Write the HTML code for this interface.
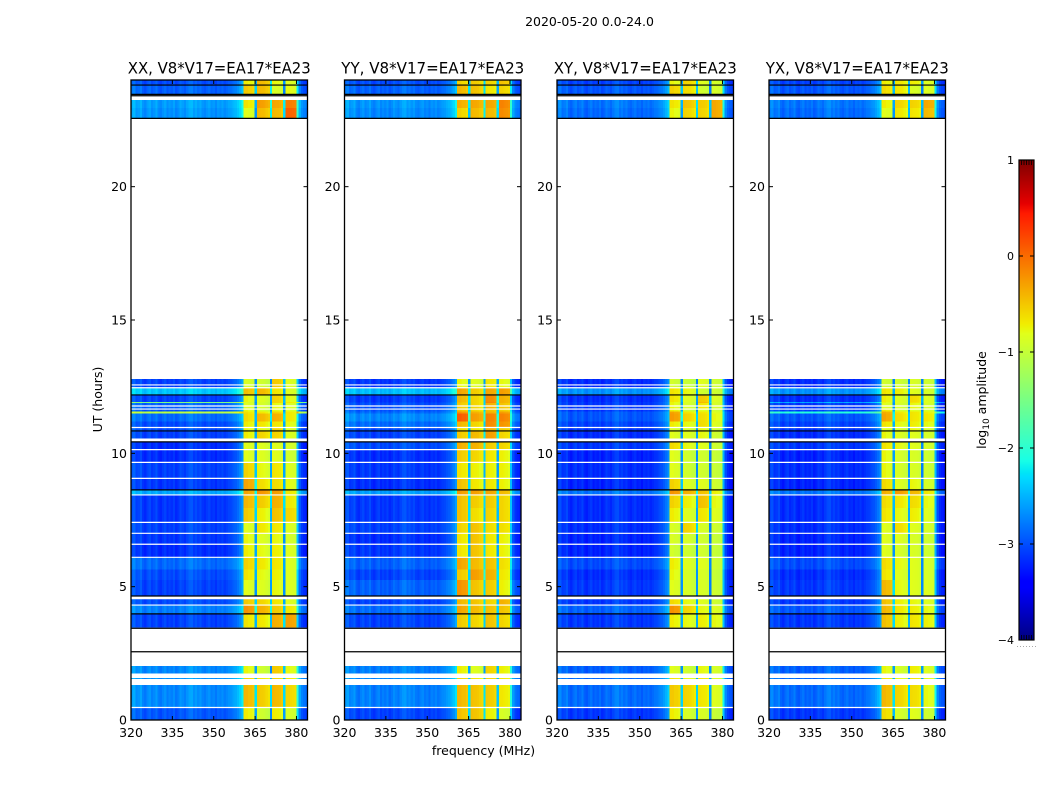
<!DOCTYPE html>
<html>
<head>
<meta charset="utf-8">
<title>2020-05-20 0.0-24.0</title>
<style>
html,body{margin:0;padding:0;background:#fff;width:1050px;height:800px;overflow:hidden}
svg{display:block}
text{font-family:"DejaVu Sans","Liberation Sans",sans-serif;fill:#000}
</style>
</head>
<body>
<svg id="chart" xmlns="http://www.w3.org/2000/svg" width="1050" height="800" viewBox="0 0 1050 800">
<rect width="1050" height="800" fill="#fff"/>
<text x="589.5" y="26" font-size="12.5" text-anchor="middle">2020-05-20 0.0-24.0</text>
<text x="102" y="399.5" font-size="12.5" text-anchor="middle" transform="rotate(-90 102 399.5)">UT (hours)</text>
<text x="483.5" y="755" font-size="12.5" text-anchor="middle">frequency (MHz)</text>
<text x="986" y="400" font-size="12.5" text-anchor="middle" transform="rotate(-90 986 400)">log<tspan font-size="9" dy="3">10</tspan><tspan dy="-3"> amplitude</tspan></text>
<g id="panels"></g>
<g id="colorbar"></g>
</svg>
<script>
// Tick labels
const freqTicks = [320, 335, 350, 365, 380];
const utTicks = [0, 5, 10, 15, 20];
const colorTicks = [1, 0, -1, -2, -3, -4];
const panelTitles = ["XX, V8*V17=EA17*EA23", "YY, V8*V17=EA17*EA23", "XY, V8*V17=EA17*EA23", "YX, V8*V17=EA17*EA23"];

// UT bins holding data (top hour, bottom hour); hours not listed are blank
const utBinTop = [24.00,23.81,23.25,22.95,12.79,12.45,12.19,11.93,11.89,11.64,11.56,11.50,11.20,10.99,10.84,10.43,10.16,9.68,9.08,8.63,8.44,7.95,7.43,7.01,6.60,6.11,5.65,5.25,4.56,4.31,3.98,2.03,1.58,1.31,0.49];
const utBinBottom = [23.81,23.46,22.95,22.58,12.45,12.19,11.93,11.89,11.64,11.56,11.50,11.20,10.99,10.84,10.56,10.16,9.68,9.08,8.63,8.44,7.95,7.43,7.01,6.60,6.11,5.65,5.25,4.65,4.31,3.98,3.47,1.74,1.54,0.49,0.00];

// UT hours with flagged (black) scans
const flaggedHours = [23.81,23.46,23.41,22.56,12.19,10.84,10.43,8.63,4.65,3.98,3.44,2.56];

// UT hours of single missing (white) scans
const blankHours = [12.565,12.46,11.775,11.66,10.97,10.14,9.66,9.06,8.44,7.41,7.0,6.59,6.1,4.55,4.31,0.47];

// Sub-band levels (log10 amplitude) per UT bin: [low, block1, block2, block3, block4]
const levelsXX = [
[-2.95,-0.75,-0.45,-0.8,-0.85],[-2.85,-0.55,-0.45,-0.9,-0.8],[-2.55,-0.7,-0.3,-0.35,-0.1],[-2.6,-0.85,-0.45,-0.45,0.05],
[-3.0,-0.9,-0.95,-0.55,-0.85],[-2.35,-0.5,-0.45,-0.7,-0.85],[-3.0,-0.8,-0.85,-0.6,-0.8],[-1.4,-0.9,-0.9,-0.6,-0.7],
[-2.85,-0.85,-0.9,-0.8,-0.85],[-2.9,-0.8,-0.9,-0.8,-0.85],[-1.0,-0.7,-0.7,-0.6,-0.7],[-2.8,-0.65,-0.45,-0.4,-0.7],
[-2.95,-0.75,-0.7,-0.7,-0.8],[-2.95,-0.8,-0.8,-0.6,-0.85],[-3.0,-0.75,-0.6,-0.6,-0.85],[-3.1,-0.85,-0.85,-0.85,-0.9],
[-3.1,-0.85,-0.85,-0.85,-0.95],[-3.0,-0.6,-0.8,-0.7,-0.85],[-3.05,-0.35,-0.65,-0.65,-0.8],[-2.5,-0.35,-0.25,-0.3,-0.7],
[-3.05,-0.45,-0.55,-0.4,-0.7],[-3.05,-0.55,-0.75,-0.5,-0.6],[-3.0,-0.85,-0.7,-0.7,-0.85],[-3.05,-0.8,-0.85,-0.8,-0.9],
[-3.1,-0.75,-0.8,-0.75,-0.85],[-2.8,-0.6,-0.7,-0.7,-0.85],[-2.95,-0.7,-0.8,-0.75,-0.85],[-3.0,-0.85,-0.85,-0.8,-0.85],
[-2.95,-0.55,-0.6,-0.7,-0.85],[-2.7,-0.25,-0.4,-0.55,-0.7],[-3.0,-0.7,-0.7,-0.4,-0.3],[-2.65,-0.8,-0.95,-0.55,-0.8],
[-2.6,-0.6,-0.7,-0.6,-0.7],[-2.65,-0.45,-0.55,-0.45,-0.6],[-2.9,-0.75,-0.95,-0.75,-0.9]];
const levelsYY = [
[-2.95,-0.6,-0.55,-0.6,-0.5],[-2.85,-0.45,-0.5,-0.7,-0.6],[-2.6,-0.4,-0.35,-0.35,-0.15],[-2.65,-0.6,-0.45,-0.45,-0.2],
[-3.05,-0.8,-0.85,-0.7,-0.8],[-2.4,-0.35,-0.55,-0.35,-0.3],[-3.05,-0.45,-0.6,-0.2,-0.4],[-3.0,-0.5,-0.6,-0.15,-0.4],
[-2.95,-0.55,-0.6,-0.4,-0.5],[-2.9,-0.5,-0.6,-0.5,-0.55],[-2.8,-0.25,-0.4,-0.4,-0.3],[-2.65,0.05,-0.3,-0.15,-0.15],
[-2.8,-0.45,-0.6,-0.2,-0.25],[-2.95,-0.65,-0.7,-0.4,-0.55],[-3.0,-0.55,-0.45,-0.3,-0.6],[-2.95,-0.4,-0.4,-0.55,-0.6],
[-3.1,-0.55,-0.6,-0.7,-0.75],[-3.05,-0.7,-0.75,-0.75,-0.75],[-3.1,-0.5,-0.7,-0.7,-0.75],[-2.55,-0.3,-0.3,-0.35,-0.45],
[-3.05,-0.5,-0.55,-0.55,-0.6],[-3.05,-0.5,-0.65,-0.6,-0.6],[-3.0,-0.6,-0.5,-0.65,-0.65],[-3.1,-0.7,-0.5,-0.7,-0.75],
[-3.05,-0.7,-0.5,-0.7,-0.75],[-2.85,-0.35,-0.45,-0.5,-0.65],[-3.0,-0.55,-0.3,-0.4,-0.7],[-2.85,-0.25,-0.5,-0.55,-0.75],
[-3.0,-0.45,-0.5,-0.6,-0.4],[-2.8,-0.35,-0.45,-0.5,-0.5],[-3.0,-0.55,-0.6,-0.5,-0.6],[-2.7,-0.75,-0.85,-0.6,-0.75],
[-2.65,-0.6,-0.7,-0.6,-0.7],[-2.7,-0.45,-0.5,-0.55,-0.7],[-3.0,-0.5,-0.5,-0.75,-0.9]];
const levelsXY = [
[-3.0,-0.8,-0.6,-0.85,-0.9],[-2.9,-0.6,-0.65,-0.95,-0.9],[-2.75,-0.7,-0.5,-0.55,-0.35],[-2.8,-0.8,-0.6,-0.6,-0.35],
[-3.1,-0.95,-1.0,-0.85,-0.95],[-2.6,-0.7,-0.8,-0.95,-0.95],[-3.1,-0.7,-0.85,-0.55,-0.85],[-3.05,-0.8,-0.9,-0.45,-0.9],
[-3.05,-0.8,-0.9,-0.7,-0.9],[-3.05,-0.75,-0.95,-0.85,-0.95],[-2.9,-0.35,-0.7,-0.7,-0.85],[-2.9,-0.3,-0.6,-0.65,-0.8],
[-3.0,-0.75,-0.8,-0.65,-0.85],[-3.05,-0.9,-0.9,-0.8,-0.95],[-3.1,-0.85,-0.85,-0.8,-0.95],[-3.05,-0.65,-0.8,-0.85,-0.95],
[-3.15,-0.85,-0.95,-0.95,-1.0],[-3.1,-0.85,-0.95,-0.95,-1.0],[-3.15,-0.6,-0.85,-0.85,-0.95],[-2.75,-0.25,-0.4,-0.5,-0.75],
[-3.1,-0.6,-0.75,-0.5,-0.8],[-3.1,-0.75,-0.85,-0.7,-0.85],[-3.1,-0.9,-0.6,-0.9,-0.95],[-3.15,-0.9,-0.9,-0.95,-1.0],
[-3.15,-0.95,-0.95,-0.95,-1.0],[-2.95,-0.75,-0.85,-0.85,-0.95],[-3.1,-0.8,-0.9,-0.9,-1.0],[-3.05,-0.85,-0.9,-0.9,-0.95],
[-3.05,-0.65,-0.8,-0.85,-0.95],[-2.85,-0.25,-0.6,-0.8,-0.85],[-3.05,-0.75,-0.8,-0.75,-0.8],[-2.85,-0.85,-0.95,-0.8,-0.9],
[-2.8,-0.7,-0.8,-0.7,-0.85],[-2.8,-0.55,-0.6,-0.7,-0.85],[-3.05,-0.75,-0.9,-0.9,-1.0]];
const levelsYX = [
[-3.0,-0.75,-0.7,-0.75,-0.85],[-2.9,-0.65,-0.7,-0.9,-0.85],[-2.75,-0.75,-0.6,-0.6,-0.35],[-2.8,-0.85,-0.7,-0.7,-0.45],
[-3.1,-0.95,-0.95,-0.9,-0.95],[-2.6,-0.7,-0.75,-0.85,-0.9],[-3.1,-0.75,-0.85,-0.65,-0.85],[-2.5,-0.8,-0.85,-0.7,-0.85],
[-3.05,-0.85,-0.9,-0.8,-0.9],[-3.0,-0.7,-0.9,-0.85,-0.9],[-2.0,-0.4,-0.7,-0.7,-0.75],[-2.9,-0.35,-0.65,-0.7,-0.7],
[-3.0,-0.7,-0.8,-0.75,-0.8],[-3.05,-0.85,-0.9,-0.8,-0.9],[-3.1,-0.8,-0.85,-0.85,-0.9],[-3.05,-0.7,-0.8,-0.85,-0.9],
[-3.15,-0.8,-0.9,-0.9,-0.95],[-3.1,-0.8,-0.9,-0.9,-0.95],[-3.15,-0.65,-0.85,-0.8,-0.9],[-2.75,-0.4,-0.3,-0.45,-0.7],
[-3.1,-0.65,-0.7,-0.65,-0.8],[-3.1,-0.7,-0.8,-0.75,-0.85],[-3.1,-0.85,-0.65,-0.85,-0.9],[-3.15,-0.85,-0.85,-0.9,-0.95],
[-3.15,-0.85,-0.9,-0.9,-0.95],[-2.95,-0.65,-0.8,-0.85,-0.9],[-3.1,-0.7,-0.85,-0.85,-0.9],[-3.05,-0.45,-0.8,-0.85,-0.85],
[-3.05,-0.5,-0.75,-0.8,-0.85],[-2.9,-0.45,-0.7,-0.75,-0.8],[-3.05,-0.5,-0.75,-0.7,-0.75],[-2.85,-0.8,-0.9,-0.75,-0.85],
[-2.8,-0.7,-0.8,-0.7,-0.8],[-2.8,-0.45,-0.6,-0.65,-0.8],[-3.05,-0.65,-0.9,-0.85,-0.95]];
const panelLevels = [levelsXX, levelsYY, levelsXY, levelsYX];

// Sub-band lower edges in MHz (low, block1..block4), and the upper edge of block4
const bandEdges = [320, 360.6, 365.6, 370.8, 375.6];
const bandTop = 380;

// Bandpass shape: offset from sub-band level per 0.8 MHz channel, 320-384 MHz
const channelShape = [
0.06,0.12,-0.04,0.0,0.08,-0.08,-0.14,-0.04,0.02,-0.1,
-0.05,0.04,-0.1,-0.15,-0.06,0.0,-0.12,-0.05,-0.1,-0.02,
-0.14,-0.08,0.02,-0.04,-0.1,0.0,0.08,0.1,-0.02,0.04,
-0.04,0.02,-0.08,-0.12,-0.05,0.0,-0.1,-0.06,-0.14,-0.04,
-0.08,-0.02,-0.1,-0.05,0.0,0.02,0.08,0.12,0.2,0.3,
0.45,0.05,0.05,0.0,0.0,-0.05,-1.8,0.05,0.03,0.02,
0.0,-0.05,-0.1,-1.75,0.05,0.03,0.02,0.0,-0.05,-1.85,
0.03,0.03,0.0,-0.02,-0.05,0.65,0.1,-0.08,-0.15,-0.2];

// Colormap control points (jet)
const jetStops = [0, 0.11, 0.125, 0.34, 0.35, 0.375, 0.64, 0.65, 0.66, 0.89, 0.91, 1];
const jetRed = [0, 0, 0, 0, 0, 0.0966, 0.8855, 0.9161, 0.9466, 1, 0.9, 0.5];
const jetGreen = [0, 0, 0, 0.8621, 0.9, 1, 1, 0.9632, 0.9265, 0.1, 0, 0];
const jetBlue = [0.5, 1, 1, 1, 0.9677, 0.9, 0.1, 0.0323, 0, 0, 0, 0];

const NS = 'http://www.w3.org/2000/svg';
const axesLeft = [131, 344.5, 557, 769];
const axesWidth = 176.5, axesTop = 80, axesBottom = 720;
const channelWidth = 0.8, freqMin = 320, freqMax = 384, utMax = 24;
const colorMin = -4, colorMax = 1;
const cbLeft = 1019, cbRight = 1034, cbTop = 160, cbBottom = 640;

function xScale(panel, f) { return axesLeft[panel] + (f - freqMin) / (freqMax - freqMin) * axesWidth; }
function yScale(h) { return axesBottom - h / utMax * (axesBottom - axesTop); }
function cScale(v) { return cbBottom - (v - colorMin) / (colorMax - colorMin) * (cbBottom - cbTop); }

function lerpStops(t, values) {
  for (let i = 1; i < jetStops.length; i++) {
    if (t <= jetStops[i]) {
      const a = (t - jetStops[i - 1]) / (jetStops[i] - jetStops[i - 1]);
      return values[i - 1] + a * (values[i] - values[i - 1]);
    }
  }
  return values[values.length - 1];
}
function jet(v) {
  const t = Math.max(0, Math.min(1, (v - colorMin) / (colorMax - colorMin)));
  return 'rgb(' + Math.round(255 * lerpStops(t, jetRed)) + ',' + Math.round(255 * lerpStops(t, jetGreen)) + ',' + Math.round(255 * lerpStops(t, jetBlue)) + ')';
}
function bandOf(f) {
  if (f >= bandTop) return 0;
  let b = 0;
  for (let i = 0; i < bandEdges.length; i++) if (f >= bandEdges[i]) b = i;
  return b;
}
function mk(tag, attrs, parent) {
  const el = document.createElementNS(NS, tag);
  for (const k in attrs) el.setAttribute(k, attrs[k]);
  parent.appendChild(el);
  return el;
}

const panelsGroup = document.getElementById('panels');
panelTitles.forEach(function (title, p) {
  const g = mk('g', {}, panelsGroup);
  
  

  const cells = mk('g', { 'shape-rendering': 'crispEdges' }, g);
  
  
  const levels = panelLevels[p];
  utBinTop.forEach(function (top, r) {
    const y0 = yScale(top), y1 = yScale(utBinBottom[r]);
    channelShape.forEach(function (offset, c) {
      const f0 = freqMin + c * channelWidth;
      const x0 = xScale(p, f0), x1 = xScale(p, f0 + channelWidth);
      const value = levels[r][bandOf(f0 + channelWidth / 2)] + offset;
      const cell = mk('rect', { x: x0.toFixed(2), y: y0.toFixed(2), width: (x1 - x0).toFixed(2), height: (y1 - y0).toFixed(2), fill: jet(value) }, cells);
      
      
    });
  });

  blankHours.forEach(function (h) {
    const gap = mk('line', { x1: axesLeft[p], x2: axesLeft[p] + axesWidth, y1: yScale(h), y2: yScale(h), stroke: '#fff', 'stroke-width': 1.2 }, g);
    
    
  });
  flaggedHours.forEach(function (h) {
    const line = mk('line', { x1: axesLeft[p], x2: axesLeft[p] + axesWidth, y1: yScale(h), y2: yScale(h), stroke: '#000', 'stroke-width': 1.2 }, g);
    
    
  });

  const frame = mk('rect', { x: axesLeft[p], y: axesTop, width: axesWidth, height: axesBottom - axesTop, fill: 'none', stroke: '#000', 'stroke-width': 1.3 }, g);
  
  

  freqTicks.forEach(function (f) {
    const x = xScale(p, f);
    const b = mk('line', { x1: x, x2: x, y1: axesBottom, y2: axesBottom - 4, stroke: '#000', 'stroke-width': 1 }, g);
    
    
    const t = mk('line', { x1: x, x2: x, y1: axesTop, y2: axesTop + 4, stroke: '#000', 'stroke-width': 1 }, g);
    
    
    const label = mk('text', { x: x, y: axesBottom + 17, 'font-size': 12.5, 'text-anchor': 'middle' }, g);
    
    
    label.textContent = f;
  });
  utTicks.forEach(function (h) {
    const y = yScale(h);
    const l = mk('line', { x1: axesLeft[p], x2: axesLeft[p] + 4, y1: y, y2: y, stroke: '#000', 'stroke-width': 1 }, g);
    
    
    const r = mk('line', { x1: axesLeft[p] + axesWidth, x2: axesLeft[p] + axesWidth - 4, y1: y, y2: y, stroke: '#000', 'stroke-width': 1 }, g);
    
    
    const label = mk('text', { x: axesLeft[p] - 4, y: y + 4.5, 'font-size': 12.5, 'text-anchor': 'end' }, g);
    
    
    label.textContent = h;
  });

  const ttl = mk('text', { x: axesLeft[p] + axesWidth / 2, y: 73.5, 'font-size': 16, 'text-anchor': 'middle', textLength: 183, lengthAdjust: 'spacingAndGlyphs' }, g);
  
  
  ttl.textContent = title;
});

// Colorbar
const cb = document.getElementById('colorbar');
const cbCells = mk('g', { 'shape-rendering': 'crispEdges' }, cb);


for (let i = 0; i < 240; i++) {
  const v0 = colorMin + i / 240 * (colorMax - colorMin);
  const v1 = colorMin + (i + 1) / 240 * (colorMax - colorMin);
  const seg = mk('rect', { x: cbLeft, y: cScale(v1), width: cbRight - cbLeft, height: cScale(v0) - cScale(v1) + 0.5, fill: jet((v0 + v1) / 2) }, cbCells);
  
  
}
const cbFrame = mk('rect', { x: cbLeft, y: cbTop, width: cbRight - cbLeft, height: cbBottom - cbTop, fill: 'none', stroke: '#000', 'stroke-width': 1.2 }, cb);


colorTicks.forEach(function (v) {
  const y = cScale(v);
  const a = mk('line', { x1: cbLeft, x2: cbLeft + 4, y1: y, y2: y, stroke: '#000', 'stroke-width': 1 }, cb);
  
  
  const b = mk('line', { x1: cbRight, x2: cbRight - 4, y1: y, y2: y, stroke: '#000', 'stroke-width': 1 }, cb);
  
  
  const label = mk('text', { x: cbLeft - 5, y: y + 4, 'font-size': 11, 'text-anchor': 'end' }, cb);
  
  
  label.textContent = v < 0 ? '\u2212' + Math.abs(v) : v;
});
for (let i = 1; i < 6; i++) {
  const x = cbLeft + i * (cbRight - cbLeft) / 6;
  const top = mk('line', { x1: x, x2: x, y1: cbTop, y2: cbTop + 5, stroke: '#000', 'stroke-width': 0.8 }, cb);
  
  
  const bot = mk('line', { x1: x, x2: x, y1: cbBottom, y2: cbBottom - 5, stroke: '#000', 'stroke-width': 0.8 }, cb);
  
  
}
for (let i = 0; i < 7; i++) {
  const dot = mk('rect', { x: cbLeft - 2 + i * 3, y: 646, width: 1, height: 1, fill: '#aaa' }, cb);
  
  
}
</script>
</body>
</html>
